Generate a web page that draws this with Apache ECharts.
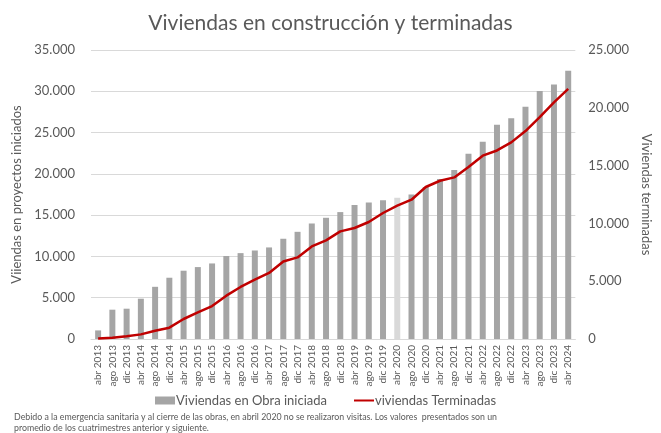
<!DOCTYPE html>
<html>
	<head>
		<meta charset="utf-8">
		<title>Viviendas en construcción y terminadas</title>
	</head>
	<body style="margin:0;">
		<div id="container" style="width: 661px;height:433px;"></div>
	</body>
	<script src="https://cdn.jsdelivr.net/npm/echarts@6/dist/echarts.min.js"></script>
	<script type="text/javascript">
		'use strict'
		// periodos (cuatrimestres)
		var categories = [
			'abr 2013', 'ago 2013', 'dic 2013',
			'abr 2014', 'ago 2014', 'dic 2014',
			'abr 2015', 'ago 2015', 'dic 2015',
			'abr 2016', 'ago 2016', 'dic 2016',
			'abr 2017', 'ago 2017', 'dic 2017',
			'abr 2018', 'ago 2018', 'dic 2018',
			'abr 2019', 'ago 2019', 'dic 2019',
			'abr 2020', 'ago 2020', 'dic 2020',
			'abr 2021', 'ago 2021', 'dic 2021',
			'abr 2022', 'ago 2022', 'dic 2022',
			'abr 2023', 'ago 2023', 'dic 2023',
			'abr 2024'
		];
		// viviendas en obra iniciada (eje izquierdo)
		var obraIniciada = [
			1040, 3550, 3670,
			4880, 6320, 7420,
			8270, 8710, 9150,
			10050, 10400, 10720,
			11090, 12140, 12980,
			13990, 14680, 15370,
			16220, 16530, 16790,
			17100, 17500, 18420,
			19380, 20470, 22440,
			23890, 25950, 26730,
			28130, 30030, 30830,
			32490
		];
		// viviendas terminadas (eje derecho)
		var terminadas = [
			50, 110, 230,
			400, 720, 980,
			1730, 2300, 2850,
			3750, 4500, 5130,
			5710, 6710, 7060,
			8010, 8530, 9310,
			9600, 10120, 10900,
			11530, 12050, 13150,
			13690, 13980, 14880,
			15860, 16310, 17010,
			17990, 19200, 20470,
			21630
		];
		// periodo sin visitas (valor promedio)
		var periodoPromedio = 'abr 2020';

		var leftTicks = { min: 0, max: 35000, interval: 5000 };
		var rightTicks = { min: 0, max: 25000, interval: 5000 };

		var barColor = '#a5a5a5';
		var barColorLight = '#d9d9d9';
		var lineColor = '#c00000';
		var textColor = '#595959';
		var fontFamily = 'Lato, "Open Sans", sans-serif';

		function miles(v) {
			return String(v).replace(/\B(?=(\d{3})+(?!\d))/g, '.');
		}

		var barData = obraIniciada.map(function(v, i) {
			if (categories[i] === periodoPromedio) {
				return { value: v, itemStyle: { color: barColorLight } };
			}
			return v;
		});

		var myCharts = echarts.init(document.getElementById('container'));
		var option = {
			animation: false,
			textStyle: { fontFamily: fontFamily },
			title: [
				{
					text: 'Viviendas en construcción y terminadas',
					left: 'center',
					top: 8,
					textStyle: { color: textColor, fontSize: 21, fontWeight: 'normal', fontFamily: fontFamily }
				},
				{
					text: 'Debido a la emergencia sanitaria y al cierre de las obras, en abril 2020 no se realizaron visitas. Los valores  presentados son un\npromedio de los cuatrimestres anterior y siguiente.',
					left: 14,
					top: 412,
					padding: 0,
					textStyle: { color: textColor, fontSize: 8.8, fontWeight: 'normal', lineHeight: 11, fontFamily: fontFamily }
				}
			],
			legend: {
				left: 150,
				top: 389,
				itemGap: 26,
				itemWidth: 20,
				itemHeight: 8,
				textStyle: { color: textColor, fontSize: 13, fontFamily: fontFamily, padding: [0, 0, 0, -4] },
				data: [
					{ name: 'Viviendas en Obra iniciada', icon: 'rect' },
					{ name: 'viviendas Terminadas', itemStyle: { opacity: 0 } }
				]
			},
			grid: {
				left: 91,
				right: 84,
				top: 50,
				bottom: 94
			},
			xAxis: {
				type: 'category',
				data: categories,
				axisLine: { lineStyle: { color: '#d9d9d9' } },
				axisTick: { show: false },
				axisLabel: {
					interval: 0,
					rotate: 90,
					color: textColor,
					fontSize: 10,
					margin: 6,
					fontFamily: fontFamily
				}
			},
			yAxis: [
				{
					type: 'value',
					min: leftTicks.min,
					max: leftTicks.max,
					interval: leftTicks.interval,
					name: 'Viiendas en proyectos iniciados',
					nameLocation: 'middle',
					nameGap: 64,
					nameTextStyle: { color: textColor, fontSize: 13, fontFamily: fontFamily },
					axisLine: { show: false },
					axisTick: { show: false },
					axisLabel: { color: textColor, fontSize: 13, margin: 16, formatter: miles, fontFamily: fontFamily },
					splitLine: { lineStyle: { color: '#d9d9d9' } }
				},
				{
					type: 'value',
					min: rightTicks.min,
					max: rightTicks.max,
					interval: rightTicks.interval,
					name: 'Viviendas terminadas',
					nameLocation: 'middle',
					nameGap: 64,
					nameRotate: -90,
					nameTextStyle: { color: textColor, fontSize: 13, fontFamily: fontFamily },
					axisLine: { show: false },
					axisTick: { show: false },
					axisLabel: { color: textColor, fontSize: 13, margin: 13, formatter: miles, fontFamily: fontFamily },
					splitLine: { show: false }
				}
			],
			series: [
				{
					name: 'Viviendas en Obra iniciada',
					type: 'bar',
					yAxisIndex: 0,
					barWidth: '42%',
					itemStyle: { color: barColor },
					data: barData
				},
				{
					name: 'viviendas Terminadas',
					type: 'line',
					yAxisIndex: 1,
					symbol: 'none',
					lineStyle: { color: lineColor, width: 2.5 },
					itemStyle: { color: lineColor },
					data: terminadas
				}
			]
		};
		myCharts.setOption(option);
	</script>
</html>
